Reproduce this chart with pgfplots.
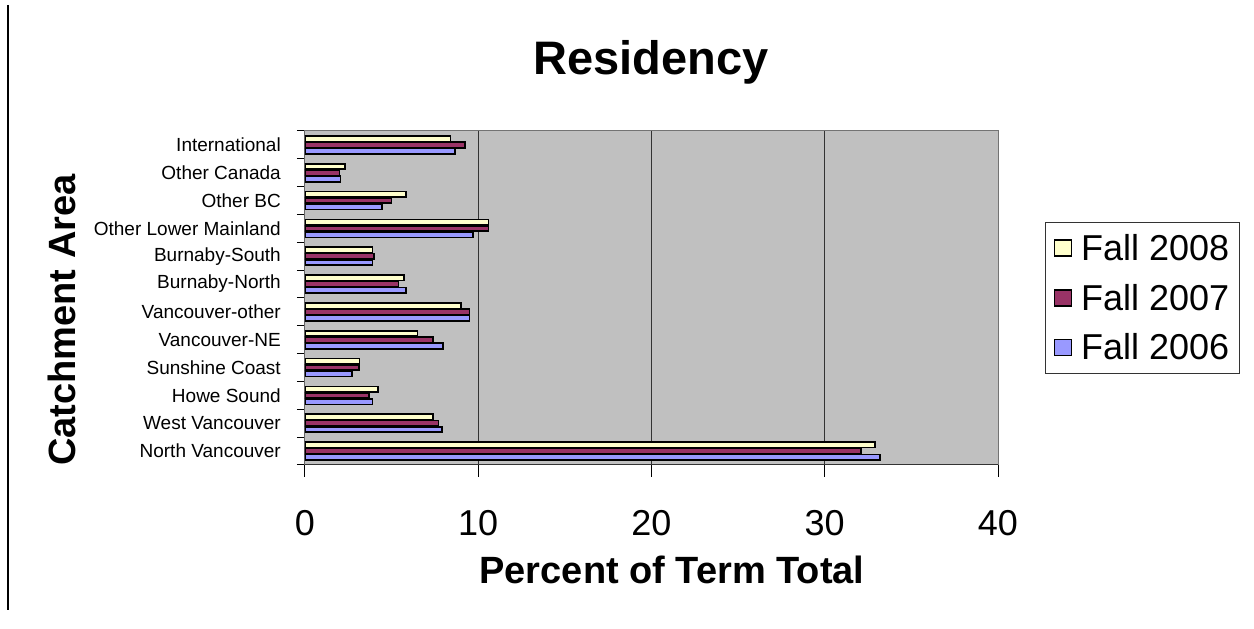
\documentclass[border=0pt]{standalone}
\usepackage{fontspec}
\setmainfont{Liberation Sans}
\usepackage{pgfplots}
\pgfplotsset{compat=1.18}
\definecolor{plotgray}{RGB}{192,192,192}
\definecolor{fyellow}{RGB}{255,255,204}
\definecolor{fmaroon}{RGB}{153,51,102}
\definecolor{fblue}{RGB}{153,153,255}

\begin{document}
\begin{tikzpicture}
\useasboundingbox (-305pt,-164pt) rectangle (949pt,465pt);
\begin{axis}[
    at={(0pt,0pt)}, anchor=south west,
    scale only axis, width=693pt, height=334pt,
    xbar=0.8pt, bar width=5.5pt,
    xmin=0, xmax=40, ymin=-0.5, ymax=11.5,
    axis background/.style={fill=plotgray},
    axis line style={draw=black!55, line width=1pt},
    xtick={0,10,20,30,40},
    ytick={0,...,11},
    yticklabels={North Vancouver, West Vancouver, Howe Sound, Sunshine Coast,
        Vancouver-NE, Vancouver-other, Burnaby-North, Burnaby-South,
        Other Lower Mainland, Other BC, Other Canada, International},
    minor ytick={-0.5,0.5,...,11.5},
    tick align=outside, major tick length=12pt, minor tick length=8pt,
    major y tick style={draw opacity=0},
    tick style={black, line width=1pt},
    xtick pos=bottom, ytick pos=left,
    xmajorgrids, grid style={black!80, line width=1pt},
    /pgf/number format/assume math mode=true,
    xticklabel style={font=\fontsize{36}{40}\selectfont, inner sep=0pt, anchor=north, yshift=-33pt},
    yticklabel style={font=\fontsize{19}{22}\selectfont, inner sep=0pt, anchor=east, xshift=-12pt},
    every axis plot/.append style={draw=black, line width=1.7pt},
    reverse legend,
    legend cell align=left,
    legend style={at={(1.068,0.7275)}, anchor=north west, draw=black!80, line width=0.8pt,
        font=\fontsize{36}{40}\selectfont, inner xsep=8pt, inner ysep=10pt, row sep=18pt},
    legend image code/.code={\draw[#1, line width=1.7pt] (0pt,-8pt) rectangle (17pt,8pt);
        \path (24pt,0pt);},
]
\addplot[fill=fblue] coordinates {
    (33.2,0) (7.9,1) (3.9,2) (2.7,3) (7.95,4) (9.5,5)
    (5.85,6) (3.9,7) (9.7,8) (4.45,9) (2.05,10) (8.65,11)
};
\addplot[fill=fmaroon] coordinates {
    (32.1,0) (7.7,1) (3.7,2) (3.1,3) (7.4,4) (9.5,5)
    (5.4,6) (4.0,7) (10.6,8) (5.0,9) (2.0,10) (9.25,11)
};
\addplot[fill=fyellow] coordinates {
    (32.9,0) (7.4,1) (4.2,2) (3.15,3) (6.5,4) (9.0,5)
    (5.7,6) (3.9,7) (10.6,8) (5.85,9) (2.3,10) (8.4,11)
};
\legend{Fall 2006, Fall 2007, Fall 2008}
\draw[black, line width=1pt] (rel axis cs:0,0) -- (rel axis cs:0,1);
\draw[black!80, line width=1pt] (rel axis cs:-0.012,0) -- (rel axis cs:1,0);
\end{axis}
\node[font=\bfseries\fontsize{47}{50}\selectfont] at (346pt,403pt) {Residency};
\node[font=\bfseries\fontsize{38}{42}\selectfont, rotate=90] at (-243pt,145pt) {Catchment Area};
\node[font=\bfseries\fontsize{38}{42}\selectfont] at (367pt,-105pt) {Percent of Term Total};
\draw[black, line width=1.2pt] (-297pt,460pt) -- (-297pt,-145pt);
\end{tikzpicture}
\end{document}
